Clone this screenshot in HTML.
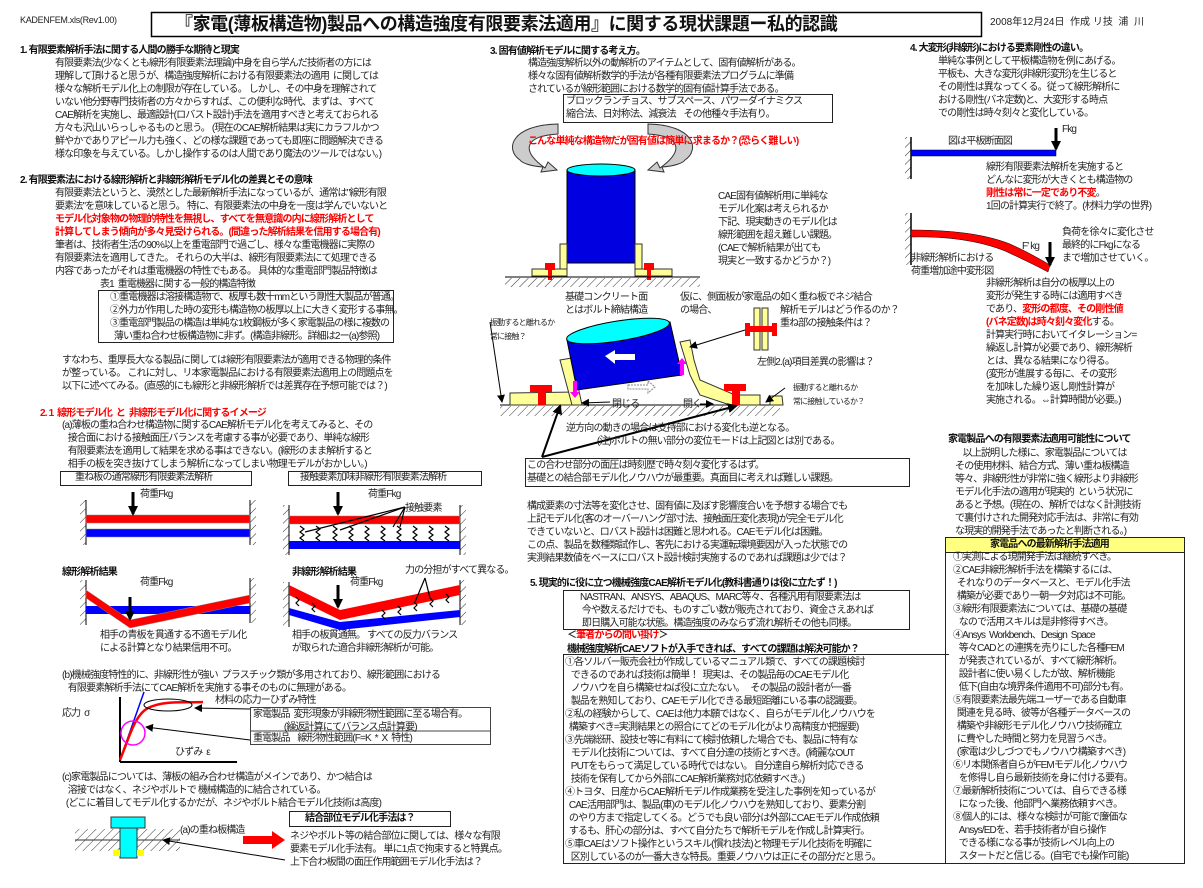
<!DOCTYPE html>
<html><head><meta charset="utf-8">
<style>
html,body{margin:0;padding:0;background:#fff;}
#p{position:relative;width:1203px;height:888px;overflow:hidden;background:#fff;font-family:"Liberation Sans","Noto Sans CJK JP",sans-serif;color:#222;}
.t{position:absolute;white-space:pre;font-size:10px;line-height:13px;letter-spacing:-0.85px;}
.b{font-weight:bold;color:#111;}
.r{color:#f00;font-weight:bold;}
.box{position:absolute;border:1px solid #222;}
svg{position:absolute;left:0;top:0;}
</style></head><body><div id="p">
<svg width="1203" height="888" viewBox="0 0 1203 888">
<defs>
<pattern id="h" width="6" height="6" patternUnits="userSpaceOnUse" patternTransform="rotate(45)"><line x1="0" y1="0" x2="0" y2="6" stroke="#333" stroke-width="1"/></pattern>
<marker id="a" markerWidth="8" markerHeight="8" refX="7" refY="4" orient="auto" markerUnits="userSpaceOnUse"><path d="M0,0 L8,4 L0,8 z" fill="#000"/></marker>
<marker id="a2" markerWidth="10" markerHeight="10" refX="8" refY="5" orient="auto" markerUnits="userSpaceOnUse"><path d="M0,0 L10,5 L0,10 z" fill="#000"/></marker>
</defs>
<rect x="151.5" y="12.5" width="830" height="24" fill="none" stroke="#000" stroke-width="1.5"/>
<rect x="80" y="500" width="6" height="45" fill="url(#h)"/><line x1="86" y1="500" x2="86" y2="545" stroke="#000"/>
<rect x="250" y="500" width="6" height="45" fill="url(#h)"/><line x1="250" y1="500" x2="250" y2="545" stroke="#000"/>
<rect x="86" y="515" width="164" height="8" fill="#f00" stroke="#888" stroke-width=".5"/>
<rect x="86" y="529" width="164" height="8" fill="#00f" stroke="#888" stroke-width=".5"/>
<line x1="133" y1="492" x2="133" y2="514" stroke="#000" stroke-width="3" marker-end="url(#a2)"/>
<rect x="283" y="505" width="6" height="50" fill="url(#h)"/><line x1="289" y1="505" x2="289" y2="555" stroke="#000"/>
<rect x="460" y="505" width="6" height="50" fill="url(#h)"/><line x1="460" y1="505" x2="460" y2="555" stroke="#000"/>
<rect x="289" y="516" width="171" height="8" fill="#f00" stroke="#888" stroke-width=".5"/>
<rect x="289" y="541" width="171" height="8" fill="#00f"/>
<g stroke="#000" fill="none" stroke-width="1.2">
<path d="M300,526 l4,3 -4,3 4,3 -4,3 4,3"/><path d="M316,526 l4,3 -4,3 4,3 -4,3 4,3"/><path d="M333,526 l4,3 -4,3 4,3 -4,3 4,3"/><path d="M349,526 l4,3 -4,3 4,3 -4,3 4,3"/><path d="M365,526 l4,3 -4,3 4,3 -4,3 4,3"/><path d="M381,526 l4,3 -4,3 4,3 -4,3 4,3"/><path d="M397,526 l4,3 -4,3 4,3 -4,3 4,3"/><path d="M413,526 l4,3 -4,3 4,3 -4,3 4,3"/><path d="M429,526 l4,3 -4,3 4,3 -4,3 4,3"/><path d="M445,526 l4,3 -4,3 4,3 -4,3 4,3"/>
<line x1="405" y1="507" x2="305" y2="532"/><line x1="405" y1="507" x2="340" y2="530"/><line x1="405" y1="507" x2="393" y2="527"/><line x1="405" y1="507" x2="400" y2="527"/>
</g>
<line x1="338" y1="492" x2="338" y2="514" stroke="#000" stroke-width="3" marker-end="url(#a2)"/>
<rect x="80" y="580" width="6" height="45" fill="url(#h)"/><line x1="86" y1="580" x2="86" y2="625" stroke="#000"/>
<rect x="250" y="578" width="6" height="45" fill="url(#h)"/><line x1="250" y1="578" x2="250" y2="623" stroke="#000"/>
<rect x="86" y="606" width="164" height="8" fill="#00f"/>
<path d="M86,590 L130,620 L250,595 L250,603 L130,628 L86,598 z" fill="#f00" stroke="#888" stroke-width=".5"/>
<line x1="130" y1="597" x2="130" y2="619" stroke="#000" stroke-width="3" marker-end="url(#a2)"/>
<rect x="283" y="582" width="6" height="45" fill="url(#h)"/><line x1="289" y1="582" x2="289" y2="627" stroke="#000"/>
<rect x="460" y="580" width="6" height="45" fill="url(#h)"/><line x1="460" y1="580" x2="460" y2="625" stroke="#000"/>
<path d="M289,585 L340,610 L460,585 L460,595 L340,620 L289,595 z" fill="#f00"/>
<path d="M289,608 L340,622 L460,610 L460,617 L340,630 L289,615 z" fill="#00f"/>
<line x1="338" y1="585" x2="338" y2="607" stroke="#000" stroke-width="3" marker-end="url(#a2)"/>
<g stroke="#000" fill="none" stroke-width="1.2"><path d="M296,597 l3,3 -3,3 3,3"/><path d="M312,603 l3,3 -3,3 3,3"/><path d="M382,610 l3,3 -3,3 3,3"/><path d="M398,606 l3,3 -3,3 3,3"/><path d="M414,602 l3,3 -3,3 3,3"/><path d="M430,598 l3,3 -3,3 3,3"/><path d="M446,594 l3,3 -3,3 3,3"/>
<line x1="425" y1="578" x2="415" y2="602"/><line x1="425" y1="578" x2="430" y2="598"/></g>
<line x1="120" y1="697" x2="120" y2="762" stroke="#000" stroke-width="2"/><line x1="120" y1="762" x2="237" y2="762" stroke="#000" stroke-width="2"/>
<line x1="120" y1="760" x2="144" y2="692" stroke="#00f" stroke-width="1.5"/>
<path d="M120,760 C130,735 135,715 148,708 C165,700 185,703 203,702" stroke="#f00" stroke-width="2.5" fill="none"/>
<ellipse cx="168" cy="705" rx="24" ry="6" fill="none" stroke="#000"/>
<circle cx="133" cy="733" r="12" fill="none" stroke="#f0f" stroke-width="1.5"/>
<line x1="250" y1="709" x2="195" y2="708" stroke="#000" marker-end="url(#a)"/>
<line x1="250" y1="740" x2="146" y2="727" stroke="#000" marker-end="url(#a)"/>
<rect x="250.5" y="707.5" width="240" height="37" fill="none" stroke="#444"/><line x1="250" y1="731" x2="490" y2="731" stroke="#444"/>
<rect x="75" y="829" width="105" height="22" fill="url(#h)"/>
<line x1="75" y1="840" x2="180" y2="840" stroke="#333"/>
<rect x="111" y="817" width="34" height="11" fill="#0ff" stroke="#333"/>
<rect x="120" y="828" width="17" height="30" fill="#0ff" stroke="#333"/>
<rect x="113" y="850" width="7" height="6" fill="#ff0"/><rect x="137" y="850" width="7" height="6" fill="#ff0"/>
<line x1="285" y1="860" x2="163" y2="840" stroke="#000" marker-end="url(#a)"/>
<path d="M243,836 L272,836 L272,831 L285,840 L272,849 L272,844 L243,844 z" fill="#f00"/>
<path d="M520,160 C505,150 510,125 558,124 L558,134 C525,136 520,150 545,168 L548,162 L557,170 L541,172 L543,167 C530,166 522,163 520,160z" fill="#ccc" stroke="#333"/>
<path d="M685,160 C700,150 695,125 648,124 L648,134 C680,136 685,150 660,168 L657,162 L648,170 L664,172 L662,167 C675,166 683,163 685,160z" fill="#ccc" stroke="#333"/>
<rect x="567" y="170" width="68" height="93" fill="#0000e0" stroke="#000"/>
<ellipse cx="601" cy="170" rx="34" ry="6" fill="#0ff" stroke="#000"/>
<rect x="560" y="244" width="7" height="25" fill="#ffff99" stroke="#333"/><rect x="635" y="244" width="7" height="25" fill="#ffff99" stroke="#333"/>
<rect x="532" y="269" width="35" height="7" fill="#ffff99" stroke="#333"/><rect x="635" y="269" width="37" height="7" fill="#ffff99" stroke="#333"/>
<rect x="545" y="263" width="10" height="7" fill="#f00"/><rect x="548" y="270" width="4" height="10" fill="#f00"/>
<rect x="644" y="263" width="10" height="7" fill="#f00"/><rect x="647" y="270" width="4" height="10" fill="#f00"/>
<line x1="505" y1="277" x2="700" y2="277" stroke="#000"/>
<rect x="505" y="278" width="195" height="9" fill="url(#h)"/>
<rect x="500" y="406" width="280" height="10" fill="url(#h)"/>
<line x1="500" y1="405" x2="780" y2="405" stroke="#000"/>
<path d="M510,393 L575,392 L580,405 L510,405z" fill="#ffff99" stroke="#333"/>
<path d="M560,360 L572,358 L582,405 L572,405z" fill="#ffff99" stroke="#333"/>
<path d="M680,342 L690,340 L694,360 L700,380 L735,395 L760,395 L760,405 L730,405 L700,395 L690,375z" fill="#ffff99" stroke="#333"/>
<path d="M770,396 L782,396 L783,405 L770,405z" fill="#ffff99" stroke="#333"/>
<path d="M567,340 L670,322 L682,375 L577,390 z" fill="#0000e0" stroke="#000"/>
<ellipse cx="618" cy="331" rx="52" ry="10" fill="#0ff" stroke="#000" transform="rotate(-9 618 331)"/>
<path d="M605,356 L615,350 L615,354 L635,354 L635,360 L615,360 L615,364z" fill="#fff"/>
<path d="M628,385 L648,385 L648,381 L655,387 L648,393 L648,389 L628,389z" fill="none" stroke="#888" stroke-dasharray="2,1"/>
<rect x="530" y="385" width="22" height="7" fill="#f00"/><rect x="538" y="392" width="8" height="13" fill="#f00"/>
<rect x="724" y="384" width="22" height="7" fill="#f00"/><rect x="732" y="391" width="8" height="14" fill="#f00"/>
<path d="M573,381 L577,381 L577,392 L580,392 L575,398 L570,392 L573,392z" fill="#f0f"/>
<path d="M680,375 L684,375 L684,364 L687,364 L682,358 L677,364 L680,364z" fill="#f0f"/>
<rect x="754" y="308" width="6" height="42" fill="#ffff99" stroke="#333"/><rect x="762" y="308" width="6" height="42" fill="#ffff99" stroke="#333"/>
<rect x="748" y="326" width="26" height="6" fill="#f00"/><rect x="745" y="323" width="5" height="13" fill="#f00"/><rect x="772" y="323" width="5" height="13" fill="#f00"/>
<line x1="745" y1="330" x2="690" y2="347" stroke="#000" marker-end="url(#a)"/>
<line x1="490" y1="322" x2="502" y2="402" stroke="#000" marker-end="url(#a)"/>
<line x1="785" y1="388" x2="766" y2="402" stroke="#000" marker-end="url(#a)"/>
<line x1="610" y1="402" x2="582" y2="403" stroke="#000" marker-end="url(#a)"/>
<line x1="700" y1="404" x2="713" y2="404" stroke="#000" marker-end="url(#a)"/>
<line x1="542" y1="457" x2="560" y2="406" stroke="#000" stroke-width="2" marker-end="url(#a2)"/>
<line x1="542" y1="457" x2="736" y2="406" stroke="#000" stroke-width="2" marker-end="url(#a2)"/>
<rect x="905" y="137" width="6" height="42" fill="url(#h)"/><line x1="911" y1="137" x2="911" y2="179" stroke="#000" stroke-width="1.5"/>
<rect x="911" y="150" width="145" height="6" fill="#00f" stroke="#000" stroke-width=".5"/>
<line x1="1056" y1="128" x2="1056" y2="149" stroke="#000" stroke-width="3" marker-end="url(#a2)"/>
<rect x="905" y="213" width="6" height="52" fill="url(#h)"/><line x1="911" y1="213" x2="911" y2="265" stroke="#000" stroke-width="1.5"/>
<path d="M911,230 C960,230 990,236 1010,244 C1030,253 1045,262 1050,265 L1048,272 C1035,265 1020,258 1005,251 C985,243 955,236 911,237z" fill="#f00" stroke="#000" stroke-width=".5"/>
<line x1="1050" y1="242" x2="1050" y2="265" stroke="#000" stroke-width="3" marker-end="url(#a2)"/>
</svg>

<div class="t" style="left:20px;top:14px;font-size:9px;letter-spacing:-0.3px;">KADENFEM.xls(Rev1.00)</div>
<div class="t b" style="left:175px;top:13px;font-size:18px;line-height:23px;letter-spacing:-0.4px;">『家電(薄板構造物)製品への構造強度有限要素法適用』に関する現状課題ー私的認識</div>
<div class="t" style="left:990px;top:16px;letter-spacing:0;">2008年12月24日  作成 リ技  浦  川</div>

<div class="t b" style="left:20px;top:44px;">1. 有限要素解析手法に関する人間の勝手な期待と現実</div>
<div class="t" style="left:55px;top:57px;">有限要素法(少なくとも線形有限要素法理論)中身を自ら学んだ技術者の方には
理解して頂けると思うが、構造強度解析における有限要素法の適用  に関しては
様々な解析モデル化上の制限が存在している。 しかし、その中身を理解されて
いない他分野専門技術者の方々からすれば、この便利な時代、まずは、すべて
CAE解析を実施し、最適設計(ロバスト設計)手法を適用すべきと考えておられる
方々も沢山いらっしゃるものと思う。 (現在のCAE解析結果は実にカラフルかつ
鮮やかでありアピール力も強く、どの様な課題であっても即座に問題解決できる
様な印象を与えている。しかし操作するのは人間であり魔法のツールではない。)</div>

<div class="t b" style="left:20px;top:174px;">2. 有限要素法における線形解析と非線形解析モデル化の差異とその意味</div>
<div class="t" style="left:55px;top:187px;">有限要素法というと、漠然とした最新解析手法になっているが、通常は"線形有限
要素法"を意味していると思う。 特に、有限要素法の中身を一度は学んでいないと
<span class="r">モデル化対象物の物理的特性を無視し、すべてを無意識の内に線形解析として
計算してしまう傾向が多々見受けられる。(間違った解析結果を信用する場合有)</span>
筆者は、技術者生活の90%以上を重電部門で過ごし、様々な重電機器に実際の
有限要素法を適用してきた。 それらの大半は、線形有限要素法にて処理できる
内容であったがそれは重電機器の特性でもある。 具体的な重電部門製品特徴は</div>
<div class="t" style="left:100px;top:278px;">表1  重電機器に関する一般的構造特徴</div>
<div class="box" style="left:98px;top:290px;width:294px;height:51px;"></div>
<div class="t" style="left:110px;top:291px;">①重電機器は溶接構造物で、板厚も数十mmという剛性大製品が普通。
②外力が作用した時の変形も構造物の板厚以上に大きく変形する事無。
③重電部門製品の構造は単純な1枚鋼板が多く家電製品の様に複数の
  薄い重ね合わせ板構造物に非ず。(構造非線形。詳細は2ー(a)参照)</div>
<div class="t" style="left:62px;top:354px;">すなわち、重厚長大なる製品に関しては線形有限要素法が適用できる物理的条件
が整っている。 これに対し、リ本家電製品における有限要素法適用上の問題点を
以下に述べてみる。(直感的にも線形と非線形解析では差異存在予想可能では？)</div>

<div class="t r" style="left:40px;top:407px;">2. 1  線形モデル化  と  非線形モデル化に関するイメージ</div>
<div class="t" style="left:62px;top:419px;">(a)薄板の重ね合わせ構造物に関するCAE解析モデル化を考えてみると、その
   接合面における接触面圧バランスを考慮する事が必要であり、単純な線形
   有限要素法を適用して結果を求める事はできない。(線形のまま解析すると
   相手の板を突き抜けてしまう解析になってしまい物理モデルがおかしい。)</div>
<div class="box" style="left:60px;top:471px;width:190px;height:13px;"></div>
<div class="t" style="left:75px;top:471px;">重ね板の通常線形有限要素法解析</div>
<div class="box" style="left:288px;top:471px;width:192px;height:13px;"></div>
<div class="t" style="left:300px;top:471px;">接触要素加味非線形有限要素法解析</div>
<div class="t" style="left:140px;top:488px;">荷重Fkg</div>
<div class="t" style="left:368px;top:488px;">荷重Fkg</div>
<div class="t" style="left:405px;top:502px;">接触要素</div>
<div class="t b" style="left:62px;top:566px;">線形解析結果</div>
<div class="t b" style="left:292px;top:566px;">非線形解析結果</div>
<div class="t" style="left:140px;top:576px;">荷重Fkg</div>
<div class="t" style="left:350px;top:576px;">荷重Fkg</div>
<div class="t" style="left:405px;top:564px;">力の分担がすべて異なる。</div>
<div class="t" style="left:100px;top:629px;">相手の青板を貫通する不適モデル化
による計算となり結果信用不可。</div>
<div class="t" style="left:292px;top:629px;">相手の板貫通無。 すべての反力バランス
が取られた適合非線形解析が可能。</div>
<div class="t" style="left:62px;top:669px;">(b)機械強度特性的に、非線形性が強い  プラスチック類が多用されており、線形範囲における
   有限要素解析手法にてCAE解析を実施する事そのものに無理がある。</div>
<div class="t" style="left:215px;top:694px;">材料の応力ーひずみ特性</div>
<div class="t" style="left:62px;top:707px;">応力  σ</div>
<div class="t" style="left:175px;top:746px;">ひずみ  ε</div>
<div class="t" style="left:253px;top:708px;">家電製品  変形現象が非線形物性範囲に至る場合有。
                (繰返計算にてバランス点計算要)</div>
<div class="t" style="left:253px;top:732px;">重電製品    線形物性範囲(F=K  *  X  特性)</div>
<div class="t" style="left:62px;top:771px;">(c)家電製品については、薄板の組み合わせ構造がメインであり、かつ結合は
   溶接ではなく、ネジやボルトで 機械構造的に結合されている。
  (どこに着目してモデル化するかだが、ネジやボルト結合モデル化技術は高度)</div>
<div class="box" style="left:289px;top:811px;width:160px;height:14px;"></div>
<div class="t b" style="left:305px;top:812px;">結合部位モデル化手法は？</div>
<div class="t" style="left:180px;top:824px;">(a)の重ね板構造</div>
<div class="t" style="left:290px;top:830px;">ネジやボルト等の結合部位に関しては、様々な有限
要素モデル化手法有。 単に1点で拘束すると特異点。
上下合わ板間の面圧作用範囲モデル化手法は？</div>

<div class="t b" style="left:490px;top:45px;">3. 固有値解析モデルに関する考え方。</div>
<div class="t" style="left:528px;top:57px;">構造強度解析以外の動解析のアイテムとして、固有値解析がある。
様々な固有値解析数学的手法が各種有限要素法プログラムに準備
されているが線形範囲における数学的固有値計算手法である。</div>
<div class="box" style="left:563px;top:94px;width:268px;height:27px;"></div>
<div class="t" style="left:566px;top:95px;">ブロックランチョス、サブスペース、パワーダイナミクス
縮合法、日対称法、減衰法    その他種々手法有り。</div>
<div class="t r" style="left:528px;top:135px;">こんな単純な構造物だが固有値は簡単に求まるか？(恐らく難しい)</div>
<div class="t" style="left:718px;top:190px;">CAE固有値解析用に単純な
モデル化案は考えられるか
下記、現実動きのモデル化は
線形範囲を超え難しい課題。
(CAEで解析結果が出ても
現実と一致するかどうか？)</div>
<div class="t" style="left:565px;top:291px;">基礎コンクリート面
とはボルト締結構造</div>
<div class="t" style="left:680px;top:291px;">仮に、側面板が家電品の如く重ね板でネジ結合
の場合、</div>
<div class="t" style="left:780px;top:304px;">解析モデルはどう作るのか？
重ね部の接触条件は？</div>
<div class="t" style="left:757px;top:356px;">左側2.(a)項目差異の影響は？</div>
<div class="t" style="left:490px;top:316px;font-size:8px;line-height:14px;">振動すると離れるか
常に接触？</div>
<div class="t" style="left:793px;top:381px;font-size:8px;line-height:14px;">振動すると離れるか
常に接触しているか？</div>
<div class="t" style="left:612px;top:398px;">閉じる</div>
<div class="t" style="left:683px;top:398px;">開く</div>
<div class="t" style="left:566px;top:422px;">逆方向の動きの場合は支持部における変化も逆となる。
                (注)ボルトの無い部分の変位モードは上記図とは別である。</div>
<div class="box" style="left:525px;top:458px;width:383px;height:27px;"></div>
<div class="t" style="left:527px;top:459px;">この合わせ部分の面圧は時刻歴で時々刻々変化するはず。
基礎との結合部モデル化ノウハウが最重要。真面目に考えれば難しい課題。</div>
<div class="t" style="left:527px;top:500px;">構成要素の寸法等を変化させ、固有値に及ぼす影響度合いを予想する場合でも
上記モデル化(客のオーバーハング部寸法、接触面圧変化表現)が完全モデル化
できていないと、ロバスト設計は困難と思われる。CAEモデル化は困難。
この点、製品を数種類試作し、客先における実運転環境要因が入った状態での
実測結果数値をベースにロバスト設計検討実施するのであれば課題は少では？</div>
<div class="t b" style="left:530px;top:577px;">5. 現実的に役に立つ機械強度CAE解析モデル化(教科書通りは役に立たず！)</div>
<div class="box" style="left:563px;top:590px;width:345px;height:38px;"></div>
<div class="t" style="left:580px;top:591px;">NASTRAN、ANSYS、ABAQUS、MARC等々、各種汎用有限要素法は
 今や数えるだけでも、ものすごい数が販売されており、資金さえあれば
 即日購入可能な状態。構造強度のみならず流れ解析その他も同様。</div>
<div class="t" style="left:567px;top:629px;"><b>＜</b><span class="r">筆者からの問い掛け</span><b>＞</b></div>
<div class="t b" style="left:567px;top:643px;">機械強度解析CAEソフトが入手できれば、すべての課題は解決可能か？</div>
<div class="box" style="left:563px;top:654px;width:385px;height:208px;border-right:none;"></div>
<div class="t" style="left:565px;top:656px;">①各ソルバー販売会社が作成しているマニュアル類で、すべての課題検討
   できるのであれば技術は簡単！  現実は、その製品毎のCAEモデル化
   ノウハウを自ら構築せねば役に立たない。   その製品の設計者が一番
   製品を熟知しており、CAEモデル化できる最短距離にいる事の認識要。
②私の経験からして、CAEは他力本願ではなく、自らがモデル化ノウハウを
  構築すべき=実測結果との照合にてどのモデル化がより高精度か把握要)
③先端総研、設技セ等に有料にて検討依頼した場合でも、製品に特有な
   モデル化技術については、すべて自分達の技術とすべき。(綺麗なOUT
   PUTをもらって満足している時代ではない。 自分達自ら解析対応できる
   技術を保有してから外部にCAE解析業務対応依頼すべき。)
④トヨタ、日産からCAE解析モデル作成業務を受注した事例を知っているが
  CAE活用部門は、製品(車)のモデル化ノウハウを熟知しており、要素分割
  のやり方まで指定してくる。どうでも良い部分は外部にCAEモデル作成依頼
  するも、肝心の部分は、すべて自分たちで解析モデルを作成し計算実行。
⑤車CAEはソフト操作というスキル(慣れ技法)と物理モデル化技術を明確に
   区別しているのが一番大きな特長。重要ノウハウは正にその部分だと思う。</div>

<div class="t b" style="left:910px;top:42px;">4. 大変形(非線形)における要素剛性の違い。</div>
<div class="t" style="left:938px;top:55px;">単純な事例として平板構造物を例にあげる。
平板も、大きな変形(非線形変形)を生じると
その剛性は異なってくる。従って線形解析に
おける剛性(バネ定数)と、大変形する時点
での剛性は時々刻々と変化している。</div>
<div class="t" style="left:1062px;top:123px;">Fkg</div>
<div class="t" style="left:948px;top:135px;">図は平板断面図</div>
<div class="t" style="left:986px;top:161px;">線形有限要素法解析を実施すると
どんなに変形が大きくとも構造物の
<span class="r">剛性は常に一定であり不変</span>。
1回の計算実行で終了。(材料力学の世界)</div>
<div class="t" style="left:1062px;top:226px;">負荷を徐々に変化させ
最終的にFkgになる
まで増加させていく。</div>
<div class="t" style="left:1022px;top:240px;">F' kg</div>
<div class="t" style="left:911px;top:252px;">非線形解析における
荷重増加途中変形図</div>
<div class="t" style="left:986px;top:277px;">非線形解析は自分の板厚以上の
変形が発生する時には適用すべき
であり、<span class="r">変形の都度、その剛性値
(バネ定数)は時々刻々変化</span>する。
計算実行時においてイタレーション=
繰返し計算が必要であり、線形解析
とは、異なる結果になり得る。
(変形が進展する毎に、その変形
を加味した繰り返し剛性計算が
実施される。⇔計算時間が必要。)</div>
<div class="t b" style="left:948px;top:433px;">家電製品への有限要素法適用可能性について</div>
<div class="t" style="left:955px;top:447px;">    以上説明した様に、家電製品については
その使用材料、結合方式、薄い重ね板構造
等々、非線形性が非常に強く線形より非線形
モデル化手法の適用が現実的  という状況に
あると予想。(現在の、解析ではなく計測技術
で裏付けされた開発対応手法は、非常に有効
な現実的開発手法であったと判断される。)</div>
<div class="box" style="left:945px;top:537px;width:238px;height:325px;"></div>
<div style="position:absolute;left:946px;top:538px;width:238px;height:14px;background:#ffff80;border-bottom:1px solid #222;"></div>
<div class="t b" style="left:990px;top:538px;">家電品への最新解析手法適用</div>
<div class="t" style="left:953px;top:551px;">①実測による現開発手法は継続すべき。
②CAE非線形解析手法を構築するには、
  それなりのデータベースと、モデル化手法
  構築が必要であり一朝一夕対応は不可能。
③線形有限要素法については、基礎の基礎
   なので活用スキルは是非修得すべき。
④Ansys  Workbench、Design  Space
   等々CADとの連携を売りにした各種FEM
   が発表されているが、すべて線形解析。
   設計者に使い易くしたが故、解析機能
   低下(自由な境界条件適用不可)部分も有。
⑤有限要素法最先端ユーザーである自動車
  関連を見る時、彼等が各種データベースの
  構築や非線形モデル化ノウハウ技術確立
  に費やした時間と努力を見習うべき。
  (家電は少しづつでもノウハウ構築すべき)
⑥リ本関係者自らがFEMモデル化ノウハウ
   を修得し自ら最新技術を身に付ける要有。
⑦最新解析技術については、自らできる様
   になった後、他部門へ業務依頼すべき。
⑧個人的には、様々な検討が可能で廉価な
   Ansys/EDを、若手技術者が自ら操作
   できる様になる事が技術レベル向上の
   スタートだと信じる。(自宅でも操作可能)</div>
</div></body></html>
